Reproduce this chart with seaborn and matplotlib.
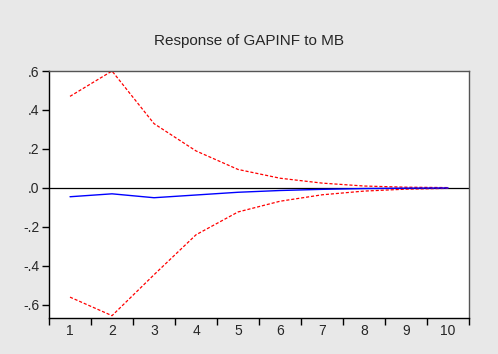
import matplotlib
matplotlib.use("Agg")
import matplotlib.pyplot as plt
import seaborn as sns
import numpy as np
import pandas as pd

periods = [1, 2, 3, 4, 5, 6, 7, 8, 9, 10]
response = [-0.045, -0.03, -0.05, -0.036, -0.022, -0.013, -0.007, -0.003, -0.001, 0.0]
upper = [0.47, 0.60, 0.33, 0.19, 0.095, 0.05, 0.025, 0.01, 0.004, 0.002]
lower = [-0.56, -0.655, -0.445, -0.24, -0.123, -0.068, -0.035, -0.016, -0.006, -0.002]
ytick_vals = [-0.6, -0.4, -0.2, 0.0, 0.2, 0.4, 0.6]
ytick_labels = ["-.6", "-.4", "-.2", ".0", ".2", ".4", ".6"]
title = "Response of GAPINF to MB"

sns.set_style("white")
plt.rcParams['font.family'] = ['Liberation Sans', 'DejaVu Sans']

df = pd.DataFrame({"period": periods, "response": response, "upper": upper, "lower": lower})

fig = plt.figure(figsize=(4.98, 3.54), dpi=100, facecolor="#e8e8e8")
ax = fig.add_axes([0.0984, 0.1017, 0.8436, 0.6977])
ax.set_facecolor("white")

ax.axhline(0, color="black", lw=0.9, zorder=1)
sns.lineplot(data=df, x="period", y="response", ax=ax, color="#0000ff", lw=1.0, zorder=3)
sns.lineplot(data=df, x="period", y="upper", ax=ax, color="#ff0000", lw=0.9, linestyle=(0, (2.5, 1.5)), zorder=2)
sns.lineplot(data=df, x="period", y="lower", ax=ax, color="#ff0000", lw=0.9, linestyle=(0, (2.5, 1.5)), zorder=2)

ax.set_xlim(0.5, 10.5)
ax.set_ylim(-0.667, 0.6)
ax.set_xticks(np.arange(0.5, 11, 1.0))
ax.set_xticklabels([])
ax.set_xticks(periods, minor=True)
ax.set_xticklabels([str(p) for p in periods], minor=True, fontsize=10)
ax.tick_params(axis="x", which="major", direction="out", length=5, width=1, color="black", bottom=True)
ax.tick_params(axis="x", which="minor", length=0, pad=4)
ax.set_yticks(ytick_vals)
ax.set_yticklabels(ytick_labels, fontsize=10)
ax.tick_params(axis="y", which="major", direction="out", length=5, width=1, color="black", left=True, pad=2)
ax.set_xlabel("")
ax.set_ylabel("")
for s in ax.spines.values():
    s.set_color("black")
    s.set_linewidth(1.0)
ax.spines["right"].set_color("#555555")
ax.spines["top"].set_color("#555555")

fig.text(0.5, 0.885, title, ha="center", va="center", fontsize=11)

fig.savefig("out.png", dpi=100, facecolor=fig.get_facecolor())
